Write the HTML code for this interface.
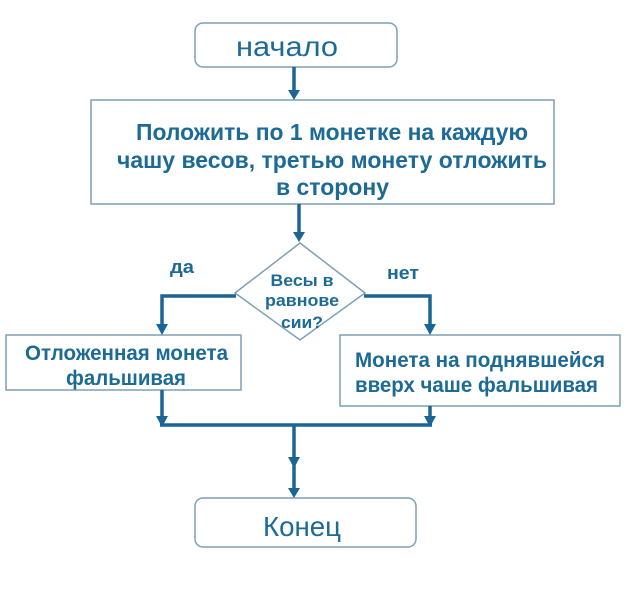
<!DOCTYPE html>
<html><head><meta charset="utf-8"><style>
html,body{margin:0;padding:0;background:#fff;}
svg{display:block;}
text{font-family:"Liberation Sans",sans-serif;fill:#1c6a96;}
.b{font-weight:bold;}
</style></head><body>
<svg width="626" height="591" viewBox="0 0 626 591" xmlns="http://www.w3.org/2000/svg">
<g fill="#fff" stroke="#7e9fb4" stroke-width="1.5">
<rect x="195" y="23" width="202" height="44" rx="8"/>
<rect x="91" y="100" width="463" height="104"/>
<polygon points="300,243 365,293 300,340 235,293"/>
<rect x="6" y="335" width="235" height="55"/>
<rect x="340" y="335" width="280" height="71"/>
<rect x="195" y="498" width="221" height="49" rx="8"/>
</g>
<g stroke="#1b6595" stroke-width="3.5" fill="none">
<line x1="294" y1="67" x2="294" y2="92"/>
<line x1="299" y1="204" x2="299" y2="233"/>
<polyline points="236,296 162,296 162,326"/>
<polyline points="364,296 430,296 430,326"/>
<line x1="162" y1="390" x2="162" y2="425"/>
<line x1="430" y1="406" x2="430" y2="425"/>
<line x1="160" y1="425" x2="432" y2="425"/>
<line x1="294" y1="425" x2="294" y2="490"/>
</g>
<g fill="#1b6595">
<polygon points="288,90 300,90 294,100"/>
<polygon points="293,232 305,232 299,242"/>
<polygon points="156,324 168,324 162,335"/>
<polygon points="424,324 436,324 430,335"/>
<polygon points="156,416 168,416 162,427"/>
<polygon points="424,416 436,416 430,427"/>
<polygon points="288,457 300,457 294,468"/>
<polygon points="288,488 300,488 294,498"/>
</g>
<text x="287" y="56" font-size="28" text-anchor="middle" textLength="102" lengthAdjust="spacingAndGlyphs">начало</text>
<text class="b" x="136" y="140" font-size="23" textLength="392" lengthAdjust="spacingAndGlyphs">Положить по 1 монетке на каждую</text>
<text class="b" x="117" y="168" font-size="23" textLength="430" lengthAdjust="spacingAndGlyphs">чашу весов, третью монету отложить</text>
<text class="b" x="276" y="195" font-size="23" textLength="113" lengthAdjust="spacingAndGlyphs">в сторону</text>
<text class="b" x="170" y="273" font-size="18" textLength="24" lengthAdjust="spacingAndGlyphs">да</text>
<text class="b" x="387" y="279" font-size="18" textLength="32" lengthAdjust="spacingAndGlyphs">нет</text>
<text class="b" x="302" y="286" font-size="17" text-anchor="middle" textLength="63" lengthAdjust="spacingAndGlyphs">Весы в</text>
<text class="b" x="302" y="306" font-size="17" text-anchor="middle" textLength="74" lengthAdjust="spacingAndGlyphs">равнове</text>
<text class="b" x="302" y="328" font-size="17" text-anchor="middle" textLength="42" lengthAdjust="spacingAndGlyphs">сии?</text>
<text class="b" x="25" y="360" font-size="21" textLength="203" lengthAdjust="spacingAndGlyphs">Отложенная монета</text>
<text class="b" x="66" y="385" font-size="21" textLength="120" lengthAdjust="spacingAndGlyphs">фальшивая</text>
<text class="b" x="355" y="367" font-size="21" textLength="250" lengthAdjust="spacingAndGlyphs">Монета на поднявшейся</text>
<text class="b" x="355" y="392" font-size="21" textLength="243" lengthAdjust="spacingAndGlyphs">вверх чаше фальшивая</text>
<text x="302" y="536" font-size="28" text-anchor="middle" textLength="78" lengthAdjust="spacingAndGlyphs">Конец</text>
</svg>
</body></html>
